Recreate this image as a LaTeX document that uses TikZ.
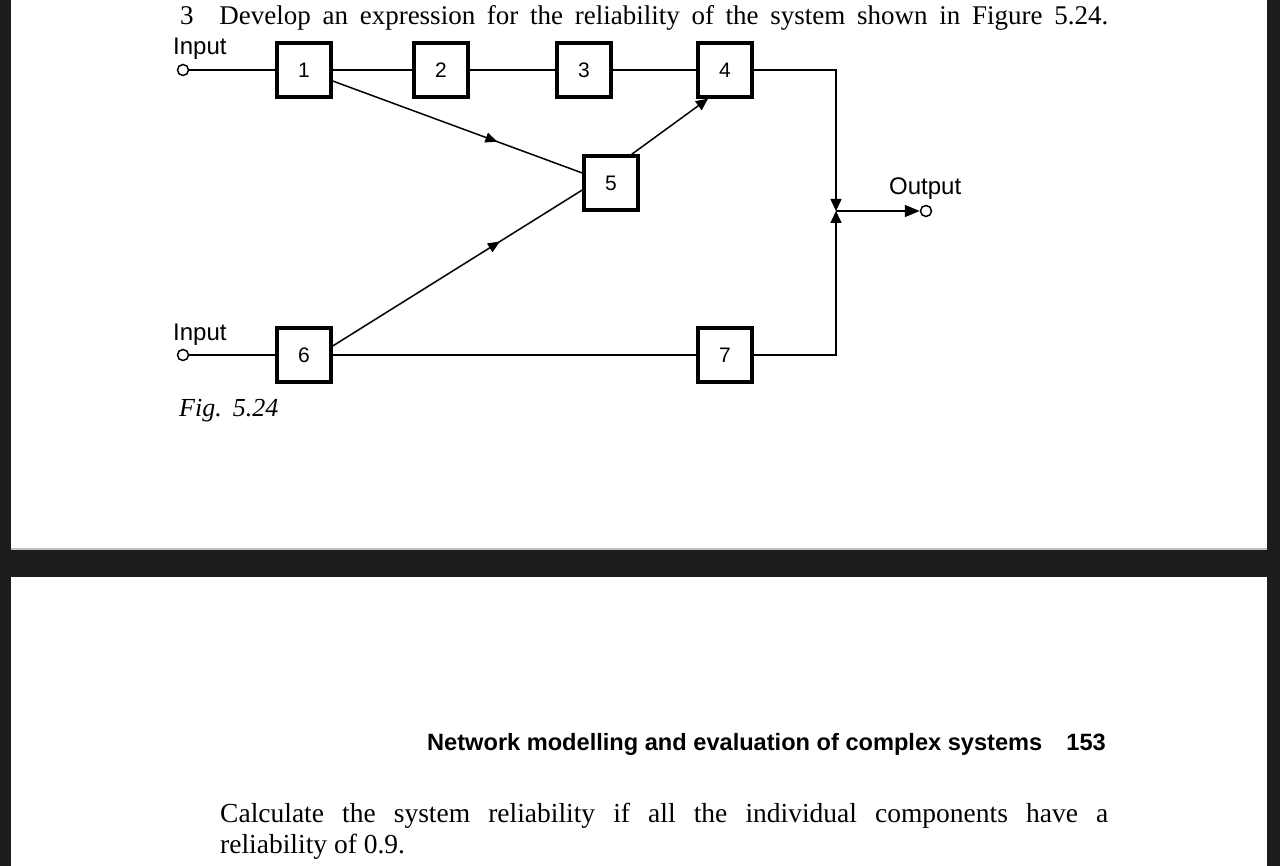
\documentclass[tikz,border=0pt]{standalone}
\usepackage{fontspec}
\setmainfont{Liberation Serif}
\setsansfont{Liberation Sans}
\usetikzlibrary{calc,decorations.markings,arrows.meta}

\definecolor{framegray}{RGB}{28,28,30}

\tikzset{
    blk/.style={draw, line width=3.4pt, minimum size=54pt, inner sep=0pt,
        font=\sffamily\fontsize{21}{21}\selectfont},
    term/.style={circle, draw, line width=1.5pt, minimum size=11pt, inner sep=0pt},
    lbl/.style={inner sep=0pt, font=\sffamily\fontsize{24}{24}\selectfont},
    link/.style={line width=1.5pt},
    tip/.style={-{Triangle[length=12pt,width=11pt]}},
    midarrow/.style={postaction={decorate}, decoration={markings,
        mark=at position #1 with {\arrow{Triangle[length=12pt,width=10pt]}}}}
}

\begin{document}
\begin{tikzpicture}[x=1pt, y=-1pt]
    \useasboundingbox (0,0) rectangle (1280,866);
    % screen and pages
    \fill[framegray] (0,0) rectangle (1280,866);
    \fill[white] (11,0) rectangle (1267,549);
    \fill[white] (11,577) rectangle (1267,866);
    \draw[gray!50, line width=1.5pt] (11,549) -- (1267,549);

    \node[anchor=base west, inner sep=0pt, font=\fontsize{27}{27}\selectfont] (q) at (180,25)
        {\makebox[928pt][s]{3\hspace{14pt} Develop an expression for the reliability of the system shown in Figure 5.24.}};

    \node[term] (in1) at (183,70) {};
    \node[term] (in2) at (183,355) {};
    \node[blk] (b1) at (304,70) {1};
    \node[blk] (b2) at (441,70) {2};
    \node[blk] (b3) at (584,70) {3};
    \node[blk] (b4) at (725,70) {4};
    \node[blk] (b5) at (611,183) {5};
    \node[blk] (b6) at (304,355) {6};
    \node[blk] (b7) at (725,355) {7};
    \coordinate (J) at (836,211);
    \node[term] (out) at (926,211) {};

    \draw[link] (in1) -- (b1); \draw[link] (b1) -- (b2);
    \draw[link] (b2) -- (b3); \draw[link] (b3) -- (b4);
    \draw[link] (in2) -- (b6); \draw[link] (b6) -- (b7);
    \draw[link, tip] (b4) -| (J);
    \draw[link, tip] (b7) -| (J);
    \draw[link, -{Triangle[length=15pt,width=12pt]}] (J) -- (out);

    \draw[link, midarrow=0.66] ([yshift=-11pt]b1.east) -- ([yshift=10pt]b5.west);
    \draw[link, midarrow=0.67] ([yshift=9pt]b6.east) -- ([yshift=-7pt]b5.west);
    \draw[link, tip] ([xshift=-8pt]b5.north east) -- ([xshift=-17pt]b4.south);

    \node[lbl, anchor=base west] (l1) at (173,55) {Input};
    \node[lbl, anchor=base west] (l2) at (173,341) {Input};
    \node[lbl, anchor=base west] (l3) at (889,195) {Output};
    \node[anchor=base west, inner sep=0pt, font=\itshape\fontsize{26}{26}\selectfont] (cap) at (179,417)
        {Fig.\hspace{11pt}5.24};

    % next page
    \node[anchor=base west, inner sep=0pt, font=\sffamily\bfseries\fontsize{23.6}{23.6}\selectfont] (hd) at (427,750)
        {Network modelling and evaluation of complex systems};
    \node[anchor=base east, inner sep=0pt, font=\sffamily\bfseries\fontsize{23.6}{23.6}\selectfont] (pg) at (1106,750) {153};
    \node[anchor=base west, inner sep=0pt, font=\fontsize{27.5}{27.5}\selectfont] (t1) at (220,822)
        {\makebox[888pt][s]{Calculate the system reliability if all the individual components have a}};
    \node[anchor=base west, inner sep=0pt, font=\fontsize{27.5}{27.5}\selectfont] (t2) at (220,853)
        {reliability of 0.9.};
\end{tikzpicture}
\end{document}
